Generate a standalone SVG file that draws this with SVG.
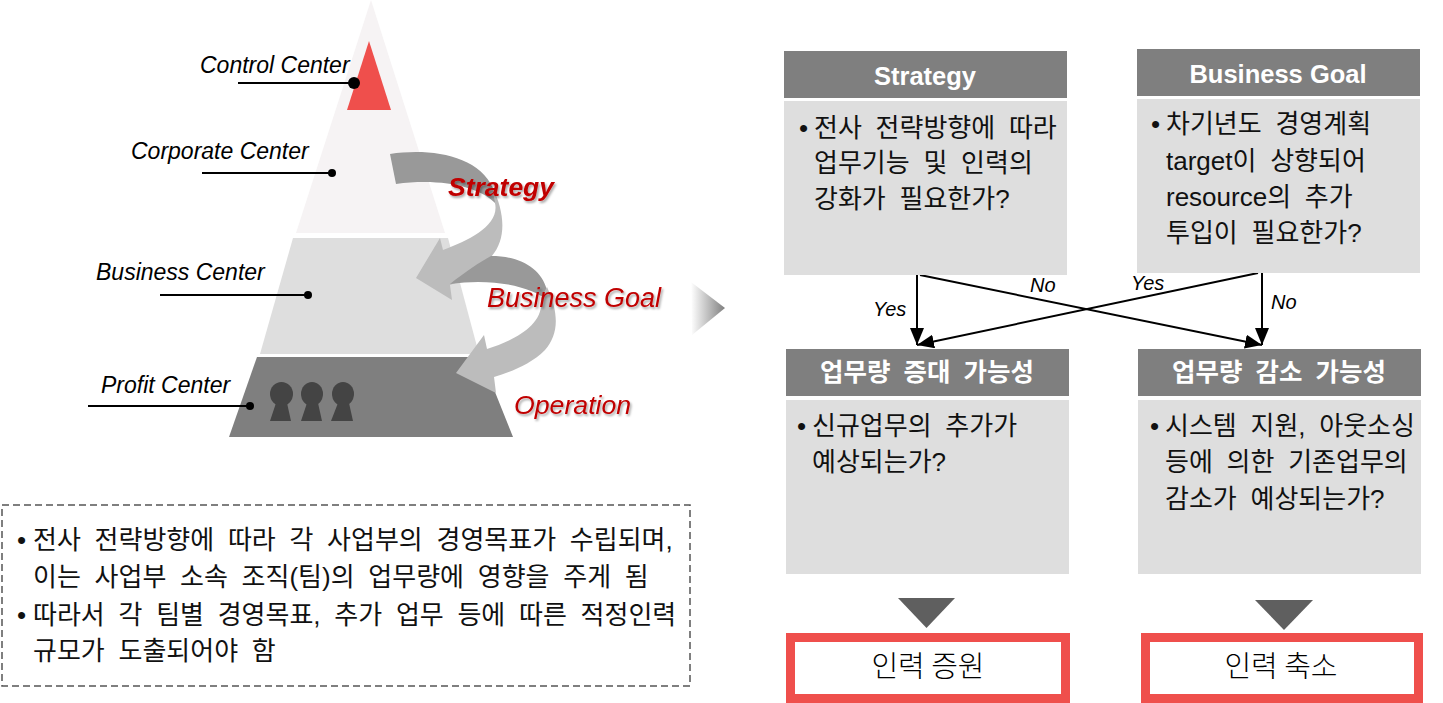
<svg xmlns="http://www.w3.org/2000/svg" width="1443" height="703" viewBox="0 0 1443 703">
<style>
.lab{font-family:"Liberation Sans",Arial,sans-serif;font-style:italic;fill:#000}
.c{font-size:23px}
.y{font-size:20px}
.red{font-family:"Liberation Sans",Arial,sans-serif;font-style:italic;fill:#c00000;filter:url(#sh)}
.ko{font-family:"Liberation Sans","Noto Sans CJK KR",sans-serif;font-size:26px;word-spacing:6.5px;fill:#111}
.hd{font-family:"Liberation Sans","Noto Sans CJK KR",sans-serif;font-size:25.500px;font-weight:700;fill:#fff;text-anchor:middle}
.hk{word-spacing:6px}
.res{font-family:"Noto Sans CJK KR",sans-serif;font-size:29px;font-weight:300;fill:#000;text-anchor:middle}
.hb{fill:#7f7f7f}.bb{fill:#dedede}
.rb{fill:#fff;stroke:#ef4f4c;stroke-width:9}
.lead{stroke:#000;stroke-width:2;fill:none}
.cn{stroke:#000;stroke-width:2;fill:none;marker-end:url(#ah)}
.dk{fill:#999}.lt{fill:#bcbcbc}
.ppl{fill:#444}
</style>
<defs>
<marker id="ah" markerUnits="userSpaceOnUse" markerWidth="20" markerHeight="16" refX="17" refY="7" orient="auto"><path d="M0 0L17 7L0 14Z" fill="#000"/></marker>
<filter id="sh" x="-10%" y="-20%" width="120%" height="150%"><feDropShadow dx="1.5" dy="2" stdDeviation="1.2" flood-color="#000" flood-opacity=".35"/></filter>
<linearGradient id="fade" x1="0" x2="1" y1="0" y2="0"><stop offset="0" stop-color="#fff"/><stop offset="1" stop-color="#7f7f7f"/></linearGradient>
</defs>
<g id="pyramid">
<path d="M371 0L445 233H296Z" fill="#f6f3f4"/>
<path d="M293 238H448L479 354H260Z" fill="#dedede"/>
<path d="M257 357H481L513 437H229Z" fill="#7f7f7f"/>
<path d="M369 41L391 110H347Z" fill="#ef4f4c"/>
<g class="ppl">
<ellipse cx="281.500" cy="394" rx="11.500" ry="12"/><path d="M276 403H287L291 421H270Z"/>
<ellipse cx="312" cy="394" rx="11" ry="12"/><path d="M307 403H318L322 421H301Z"/>
<ellipse cx="343" cy="394" rx="11" ry="12"/><path d="M338 403H349L353 421H331Z"/>
</g>
</g>
<g id="curved-arrows">
<path class="dk" d="M390 154C430 148 478 155 493 188L497 205C480 186 440 178 396 184Z"/>
<path class="lt" d="M492 186C506 215 506 240 491 257C480 270 465 280 450 285L452 300L416 278L440 238L443 250C470 240 500 225 495 203Z"/>
<path class="dk" d="M450 284C465 272 480 262 491 256C520 256 541 268 547 290L550 302C530 285 490 278 450 284Z"/>
<path class="lt" d="M547 287C560 315 558 335 545 350C530 365 510 372 494 377L496 393L456 373L484 335L487 349C515 340 545 325 541 298Z"/>
</g>
<g id="labels-left">
<g id="control-center"><text class="lab c" x="200" y="73">Control Center</text><path class="lead" d="M238 83H354"/><circle cx="354" cy="83" r="6"/></g>
<g id="corporate-center"><text class="lab c" x="131" y="159">Corporate Center</text><path class="lead" d="M202 173H332"/><circle cx="332" cy="173" r="4"/></g>
<g id="business-center"><text class="lab c" x="96" y="280">Business Center</text><path class="lead" d="M160 295H308"/><circle cx="308" cy="295" r="4"/></g>
<g id="profit-center"><text class="lab c" x="101" y="393">Profit Center</text><path class="lead" d="M88 406H250"/><circle cx="250" cy="406" r="4"/></g>
<text class="red" x="448" y="196" font-size="26.500" font-weight="700">Strategy</text>
<text class="red" x="487" y="307" font-size="27">Business Goal</text>
<text class="red" x="514" y="414" font-size="26.700">Operation</text>
</g>
<path id="chevron" d="M691 282L725 308L692 335Z" fill="url(#fade)"/>
<g id="note">
<rect x="2" y="505" width="688" height="181" fill="none" stroke="#555" stroke-width="1.500" stroke-dasharray="7 4"/>
<text class="ko" x="17" y="549">•</text><text class="ko" x="33" y="549">전사 전략방향에 따라 각 사업부의 경영목표가 수립되며,</text>
<text class="ko" x="33" y="586">이는 사업부 소속 조직(팀)의 업무량에 영향을 주게 됨</text>
<text class="ko" x="17" y="624">•</text><text class="ko" x="33" y="624">따라서 각 팀별 경영목표, 추가 업무 등에 따른 적정인력</text>
<text class="ko" x="33" y="660">규모가 도출되어야 함</text>
</g>
<g id="connectors">
<path class="cn" d="M917 275V345"/>
<path class="cn" d="M1262 273V345"/>
<path class="cn" d="M920 275L1262 345"/>
<path class="cn" d="M1258 273L917 345"/>
</g>
<g id="connector-labels">
<text class="lab y" x="873" y="316">Yes</text>
<text class="lab y" x="1030" y="292">No</text>
<text class="lab y" x="1131" y="290">Yes</text>
<text class="lab y" x="1271" y="309">No</text>
</g>
<g id="strategy">
<rect class="hb" x="784" y="51" width="283" height="47"/><rect class="bb" x="784" y="101" width="283" height="174"/>
<text class="hd" x="925" y="85">Strategy</text>
<text class="ko" x="799" y="137">•</text><text class="ko" x="814" y="137">전사 전략방향에 따라</text>
<text class="ko" x="814" y="172">업무기능 및 인력의</text>
<text class="ko" x="814" y="208">강화가 필요한가?</text>
</g>
<g id="business-goal">
<rect class="hb" x="1137" y="49" width="283" height="47"/><rect class="bb" x="1137" y="99" width="283" height="174"/>
<text class="hd" x="1278" y="83">Business Goal</text>
<text class="ko" x="1151" y="133">•</text><text class="ko" x="1166" y="133">차기년도 경영계획</text>
<text class="ko" x="1166" y="170">target이 상향되어</text>
<text class="ko" x="1166" y="206">resource의 추가</text>
<text class="ko" x="1166" y="242">투입이 필요한가?</text>
</g>
<g id="increase">
<rect class="hb" x="786" y="349" width="283" height="47"/><rect class="bb" x="786" y="400" width="283" height="174"/>
<text class="hd hk" x="927" y="381">업무량 증대 가능성</text>
<text class="ko" x="797" y="435">•</text><text class="ko" x="812" y="435">신규업무의 추가가</text>
<text class="ko" x="812" y="471">예상되는가?</text>
</g>
<g id="decrease">
<rect class="hb" x="1138" y="349" width="283" height="47"/><rect class="bb" x="1138" y="400" width="283" height="174"/>
<text class="hd hk" x="1279" y="381">업무량 감소 가능성</text>
<text class="ko" x="1150" y="435">•</text><text class="ko" x="1165" y="435">시스템 지원, 아웃소싱</text>
<text class="ko" x="1165" y="471">등에 의한 기존업무의</text>
<text class="ko" x="1165" y="508">감소가 예상되는가?</text>
</g>
<path id="down-left" d="M898 598H955L926.500 628Z" fill="#5f5f5f"/>
<path id="down-right" d="M1255 600H1313L1284 630Z" fill="#5f5f5f"/>
<g id="result-up"><rect class="rb" x="790.500" y="637.500" width="275" height="61"/><text class="res" x="928" y="677">인력 증원</text></g>
<g id="result-down"><rect class="rb" x="1145.500" y="637.500" width="273" height="61"/><text class="res" x="1281" y="677">인력 축소</text></g>
</svg>
